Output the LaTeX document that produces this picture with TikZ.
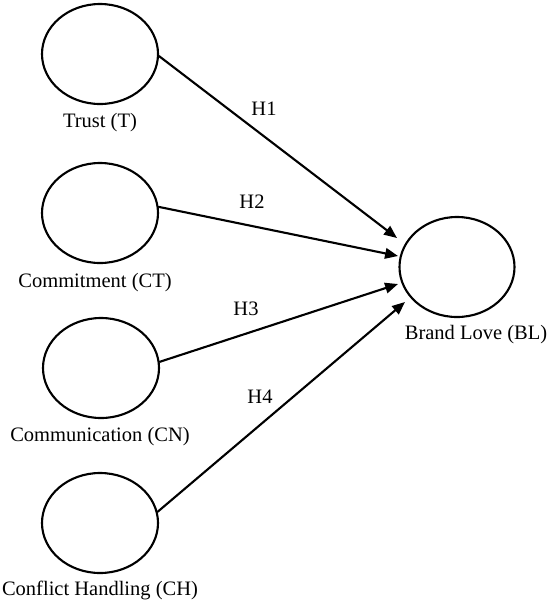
\documentclass[tikz,border=0pt]{standalone}
\usepackage{fontspec}
\setmainfont{Liberation Serif}
\usetikzlibrary{arrows.meta, shapes.geometric, positioning}

\begin{document}
\begin{tikzpicture}[
    x=0.03cm, y=-0.03cm,
    line cap=round,
    line join=round,
    costrutto/.style = {ellipse, draw, line width=1.8pt, minimum width=3.48cm, minimum height=3.0cm, inner sep=0pt},
    freccia/.style   = {line width=1.8pt, -{Triangle[length=11pt,width=9pt]}},
    etichetta/.style = {font=\fontsize{17.5}{21}\selectfont, inner sep=1pt},
    ipotesi/.style   = {font=\fontsize{17.5}{21}\selectfont, inner sep=1pt}
]
\useasboundingbox (0,0) rectangle (550,605);

% ---- costrutti ----
\node[costrutto] (T)  at (100,54)  {};
\node[costrutto] (CT) at (100,213) {};
\node[costrutto] (CN) at (101,368) {};
\node[costrutto] (CH) at (100,523) {};
\node[costrutto, minimum width=3.45cm] (BL) at (457,267) {};

% ---- nomi ----
\node[etichetta] (tT)  at (100,123) {Trust (T)};
\node[etichetta] (tCT) at (95,283)  {Commitment (CT)};
\node[etichetta] (tCN) at (100,437) {Communication (CN)};
\node[etichetta] (tCH) at (100,590) {Conflict Handling (CH)};
\node[etichetta] (tBL) at (476,335) {Brand Love (BL)};

% ---- punte delle frecce ----
\coordinate (e1) at (397,238);
\coordinate (e2) at (398,256);
\coordinate (e3) at (398,284);
\coordinate (e4) at (405,302);

% ---- ipotesi ----
\draw[freccia] (T.-2)  -- (e1);
\draw[freccia] (CT.6)  -- (e2);
\draw[freccia] (CN.6)  -- (e3);
\draw[freccia] (CH.11) -- (e4);

\node[ipotesi] (H1) at (264,109) {H1};
\node[ipotesi] (H2) at (252,202) {H2};
\node[ipotesi] (H3) at (246,309) {H3};
\node[ipotesi] (H4) at (260,397) {H4};

\end{tikzpicture}
\end{document}
